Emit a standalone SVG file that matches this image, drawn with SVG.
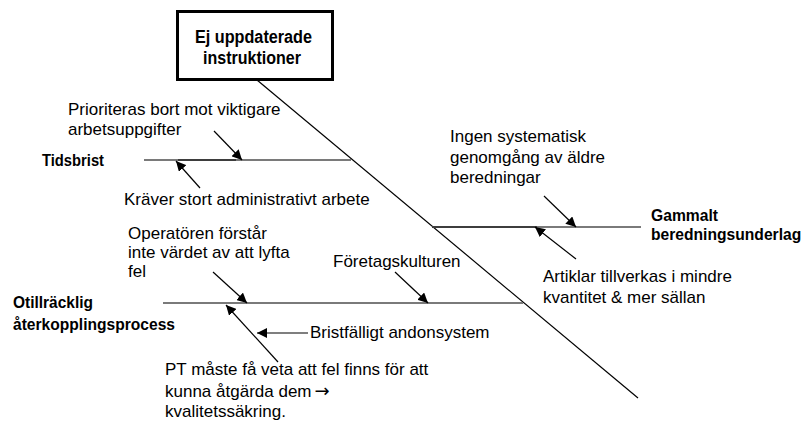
<svg xmlns="http://www.w3.org/2000/svg" width="807" height="424" viewBox="0 0 807 424">
  <style>
    text { font-family: "Liberation Sans", Arial, sans-serif; fill: #000; }
    .cause { font-size: 17px; }
    .cat { font-size: 17px; font-weight: bold; }
    .head { font-size: 17.5px; font-weight: bold; }
    .sym { font-family: "DejaVu Sans", sans-serif; font-size: 18px; }
    .bone { stroke: #7a7a7a; stroke-width: 2; fill: none; }
    .boneDark { stroke: #000; stroke-width: 1.2; fill: none; }
    .spine { stroke: #000; stroke-width: 1.2; fill: none; }
    .arrow { stroke: #000; stroke-width: 1.2; fill: none; marker-end: url(#tip); }
  </style>
  <defs>
    <marker id="tip" viewBox="0 0 10 10" refX="10" refY="5" markerWidth="10" markerHeight="10" markerUnits="userSpaceOnUse" orient="auto">
      <path d="M0,0 L10,5 L0,10 z" fill="#000"/>
    </marker>
  </defs>
  <rect width="807" height="424" fill="#fff"/>

  <!-- spine, bones and cause arrows -->
  <g id="connectors">
    <line class="spine" x1="257" y1="80" x2="638" y2="398"/>
    <line class="bone" x1="144" y1="160" x2="351" y2="160"/>
    <line class="boneDark" x1="178" y1="160" x2="236" y2="160"/>
    <line class="bone" x1="432" y1="227" x2="641" y2="227"/>
    <line class="boneDark" x1="432" y1="227" x2="537" y2="227"/>
    <line class="bone" x1="163" y1="303" x2="523" y2="303"/>

    <line class="arrow" x1="214" y1="131" x2="242" y2="160"/>
    <line class="arrow" x1="200" y1="188" x2="176" y2="161"/>
    <line class="arrow" x1="544" y1="196" x2="576" y2="227"/>
    <line class="arrow" x1="576" y1="259" x2="535" y2="227"/>
    <line class="arrow" x1="395" y1="272" x2="428" y2="303"/>
    <line class="arrow" x1="213" y1="272" x2="247" y2="303"/>
    <line class="arrow" x1="278" y1="362" x2="226" y2="305"/>
    <line class="arrow" x1="308" y1="333" x2="257" y2="333"/>
  </g>

  <!-- effect -->
  <g id="effect">
    <rect x="177.5" y="11.5" width="155" height="68" fill="#fff" stroke="#000" stroke-width="3"/>
    <text class="head" x="195" y="43" textLength="117" lengthAdjust="spacingAndGlyphs">Ej uppdaterade</text>
    <text class="head" x="203" y="64" textLength="98" lengthAdjust="spacingAndGlyphs">instruktioner</text>
  </g>

  <!-- Tidsbrist -->
  <g id="tidsbrist">
    <text class="cat" x="42" y="166" textLength="62" lengthAdjust="spacingAndGlyphs">Tidsbrist</text>
    <text class="cause" x="68" y="115">Prioriteras bort mot viktigare</text>
    <text class="cause" x="68" y="135">arbetsuppgifter</text>
    <text class="cause" x="124" y="205">Kräver stort administrativt arbete</text>
  </g>

  <!-- Gammalt beredningsunderlag -->
  <g id="beredningsunderlag">
    <text class="cat" x="651" y="221" textLength="67" lengthAdjust="spacingAndGlyphs">Gammalt</text>
    <text class="cat" transform="translate(651,240) scale(0.92,1)" x="0" y="0">beredningsunderlag</text>
    <text class="cause" x="450" y="142">Ingen systematisk</text>
    <text class="cause" x="450" y="163">genomgång av äldre</text>
    <text class="cause" x="450" y="183">beredningar</text>
    <text class="cause" x="543" y="282">Artiklar tillverkas i mindre</text>
    <text class="cause" x="543" y="303">kvantitet &amp; mer sällan</text>
  </g>

  <!-- Otillräcklig återkopplingsprocess -->
  <g id="aterkoppling">
    <text class="cat" x="13" y="308" textLength="80" lengthAdjust="spacingAndGlyphs">Otillräcklig</text>
    <text class="cat" x="13" y="330" textLength="162" lengthAdjust="spacingAndGlyphs">återkopplingsprocess</text>
    <text class="cause" x="128" y="239">Operatören förstår</text>
    <text class="cause" x="128" y="258">inte värdet av att lyfta</text>
    <text class="cause" x="128" y="277">fel</text>
    <text class="cause" x="333" y="267">Företagskulturen</text>
    <text class="cause" x="310" y="338">Bristfälligt andonsystem</text>
    <text class="cause" x="165" y="375">PT måste få veta att fel finns för att</text>
    <text class="cause" x="165" y="397">kunna åtgärda dem<tspan class="sym" dx="3">→</tspan></text>
    <text class="cause" x="165" y="417">kvalitetssäkring.</text>
  </g>
</svg>
